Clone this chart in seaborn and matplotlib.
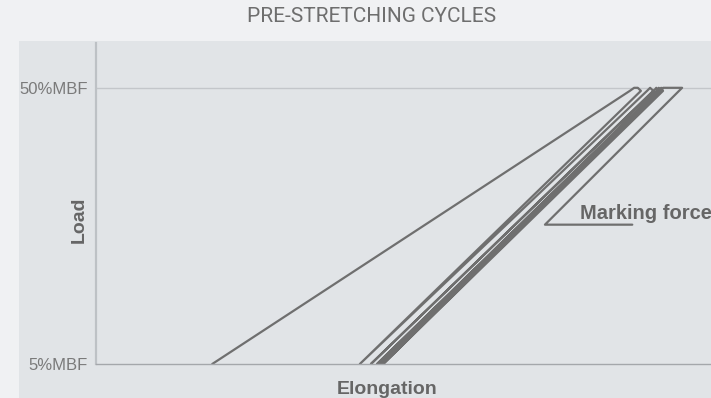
import matplotlib
matplotlib.use("Agg")
import matplotlib.pyplot as plt
import numpy as np
import pandas as pd
import seaborn as sns
from matplotlib.patches import Rectangle

# load path of the pre-stretching cycles (elongation in arbitrary units, load in %MBF)
elongation = [18.9, 86.8, 87.5, 88.1, 88.6,
              42.9, 89.6, 90.1, 90.6,
              44.7, 90.7, 91.1, 91.4,
              45.7, 91.2, 91.5, 91.9,
              46.2, 91.5, 91.9, 92.2,
              46.7, 92.2, 95.3,
              73.0, 87.2]
load = [5, 49.5, 50, 50, 49.5,
        5, 49.5, 50, 49.5,
        5, 49.5, 50, 49.5,
        5, 49.5, 50, 49.5,
        5, 49.5, 50, 49.5,
        5, 50, 50,
        27.7, 27.7]

y_ticks = [5, 50]
y_tick_labels = ['5%MBF', '50%MBF']
marking_force = 27.7

df = pd.DataFrame({'elongation': elongation, 'load': load, 'step': range(len(load))})

sns.set_theme(style="white")
plt.rcParams['font.family'] = ['Liberation Sans', 'DejaVu Sans']

LINE = '#6f6f6f'
TEXT = '#666666'
fig = plt.figure(figsize=(7.11, 3.98), dpi=100)
fig.patch.set_facecolor('#f0f1f3')
fig.patches.append(Rectangle((19 / 711, 0), 1, (398 - 41) / 398, transform=fig.transFigure,
                             facecolor='#e1e4e7', edgecolor='none', zorder=-1))

ax = fig.add_axes([96 / 711, 34 / 398, 1 - 96 / 711, (364 - 43) / 398])
ax.set_zorder(1)
ax.set_facecolor('none')

sns.lineplot(data=df, x='elongation', y='load', sort=False, estimator=None, color=LINE,
             linewidth=1.6, ax=ax, solid_joinstyle='round', solid_capstyle='round')

ax.set_xlim(0, 100)
ax.set_ylim(5, 57.3)
ax.set_xticks([])
ax.set_yticks(y_ticks)
ax.set_yticklabels(y_tick_labels, color='#7a7a7a', fontsize=12)
ax.tick_params(axis='y', length=0, pad=6)
ax.axhline(50, color='#c3c6ca', linewidth=1, zorder=0)

for side in ('top', 'right'):
    ax.spines[side].set_visible(False)
ax.spines['left'].set_color('#bdc1c5')
ax.spines['left'].set_linewidth(1.6)
ax.spines['bottom'].set_color('#a4a7ab')
ax.spines['bottom'].set_linewidth(1)

ax.set_xlabel('Elongation', fontsize=14, fontweight='bold', color=TEXT)
ax.xaxis.set_label_coords((387 - 96) / 615, -0.052)
ax.set_ylabel('Load', fontsize=14, fontweight='bold', color=TEXT)
ax.yaxis.set_label_coords(-0.014, (364 - 220) / 321)

ax.text(78.7, 28.6, 'Marking force', fontsize=14.5, fontweight='bold',
        color=TEXT, ha='left', va='baseline')

fig.text(372 / 711, 1 - 17 / 398, 'PRE-STRETCHING CYCLES', ha='center', va='center',
         fontsize=15, color='#6e6e6e', family=['Roboto', 'DejaVu Sans'])

fig.savefig('out.png', dpi=100, facecolor=fig.get_facecolor())
